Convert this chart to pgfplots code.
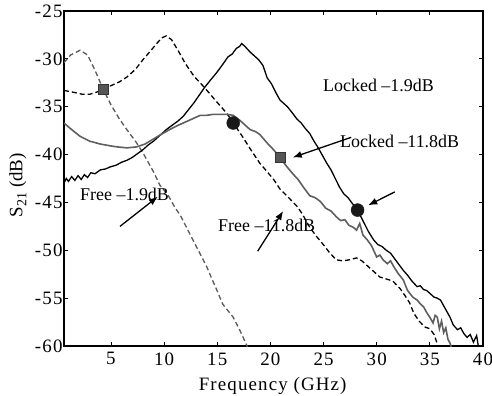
\documentclass[border=0pt]{standalone}
\usepackage{fontspec}
\setmainfont{Liberation Serif}
\newfontfamily\tickfont[LetterSpace=6]{Liberation Serif}
\usepackage{pgfplots}
\pgfplotsset{compat=1.18}
\usetikzlibrary{arrows.meta}
\definecolor{lgray}{HTML}{5F5F5F}
\definecolor{dgray}{HTML}{5A5A5A}
\definecolor{sqfill}{HTML}{555555}
\begin{document}
\begin{tikzpicture}
\path[use as bounding box] (0,0) rectangle (492bp,396bp);
\begin{axis}[
  at={(64bp,50bp)}, anchor=south west,
  width=419bp, height=335bp, scale only axis,
  xmin=0.58, xmax=40, ymin=-60, ymax=-25,
  xtick={5,10,...,40}, ytick={-60,-55,...,-25},
  tick align=inside, major tick length=4bp,
  axis line style={line width=1.2bp},
  every tick/.style={black, line width=0.8bp},
  tick label style={font=\fontsize{19}{20}\tickfont},
  /pgf/number format/assume math mode=true,
  xticklabel style={yshift=-3bp},
  yticklabel style={xshift=2bp},
  xlabel={Frequency (GHz)}, ylabel={S{\fontsize{14}{15}\selectfont\raisebox{-4bp}{21}} (dB)},
  every axis x label/.style={at={(axis description cs:0.498,-0.12)}, anchor=center, font=\fontsize{19}{20}\tickfont},
  every axis y label/.style={at={(axis description cs:-0.11,0.48)}, rotate=90, anchor=center, font=\fontsize{19}{20}\selectfont},
  clip=true,
]
% Free -1.9dB
\addplot[dgray, line width=1.3bp, dash pattern=on 5bp off 3bp] coordinates {
(0.58,-30.4)(1.2,-29.6)(2.1,-29.1)(2.8,-29.6)(3.5,-31.2)(4.28,-33.2)(5.0,-34.8)(5.8,-36.3)(6.5,-37.4)(7.3,-38.6)(8.0,-39.8)(9.0,-41.8)(9.6,-43.2)(10.4,-44.3)(11.0,-45.5)(11.5,-46.3)(12.1,-47.6)(12.7,-48.9)(13.4,-50.4)(14.0,-51.7)(14.5,-53.0)(14.9,-54.0)(15.5,-55.6)(16.0,-56.3)(16.5,-57.0)(17.1,-58.3)(17.8,-60.0)(18.0,-60.5)
};
% Free -11.8dB
\addplot[black, line width=1.3bp, dash pattern=on 5bp off 3bp] coordinates {
(0.58,-33.3)(1.5,-33.5)(2.3,-33.7)(3.0,-33.7)(3.6,-33.5)(4.28,-33.2)(5.0,-32.8)(5.8,-32.4)(6.5,-31.9)(7.3,-31.1)(8.0,-30.1)(8.7,-29.2)(9.3,-28.4)(9.8,-27.8)(10.2,-27.6)(10.7,-28.0)(11.3,-29.1)(12.0,-30.5)(12.8,-31.8)(13.8,-33.0)(14.8,-34.3)(15.9,-35.7)(16.5,-36.7)(17.3,-38.0)(18.1,-39.4)(19.0,-40.9)(19.7,-41.8)(20.3,-42.6)(20.9,-43.6)(21.8,-44.6)(22.5,-45.4)(23.0,-46.2)(23.7,-47.6)(24.3,-48.5)(24.9,-49.3)(25.6,-50.3)(26.2,-51.0)(26.8,-51.1)(27.4,-51.0)(28.1,-50.8)(28.6,-51.1)(29.1,-51.6)(29.7,-52.2)(30.3,-52.8)(30.9,-53.0)(31.5,-53.2)(32.2,-54.0)(32.7,-54.8)(33.1,-55.5)(33.5,-56.6)(34.0,-57.4)(34.5,-58.0)(35.0,-58.2)(35.4,-58.8)(35.7,-59.8)(36.0,-60.5)
};
% Locked -1.9dB
\addplot[black, line width=1.3bp] coordinates {
(0.58,-43.0)(0.8,-42.5)(1.0,-42.8)(1.3,-42.3)(1.6,-42.7)(1.9,-42.2)(2.2,-42.6)(2.5,-42.1)(2.8,-42.4)(3.1,-41.9)(3.5,-42.0)(4.0,-41.6)(4.5,-41.5)(4.9,-41.3)(5.5,-41.1)(6.0,-40.8)(6.5,-40.6)(7.0,-40.3)(7.5,-39.9)(8.0,-39.5)(8.5,-39.0)(9.0,-38.6)(9.6,-38.0)(10.2,-37.4)(10.8,-36.9)(11.3,-36.5)(11.8,-36.0)(12.3,-35.3)(12.8,-34.6)(13.3,-33.8)(13.8,-33.0)(14.3,-32.3)(14.9,-31.5)(15.5,-30.6)(16.0,-29.8)(16.4,-29.5)(16.8,-28.9)(17.1,-28.7)(17.3,-28.4)(17.6,-28.7)(18.1,-29.3)(18.5,-29.7)(18.9,-30.1)(19.3,-30.7)(19.7,-32.0)(20.1,-32.6)(20.5,-33.5)(20.9,-34.3)(21.2,-34.6)(21.6,-35.0)(22.1,-35.7)(22.5,-36.3)(22.9,-36.7)(23.3,-37.3)(23.7,-37.8)(24.1,-38.6)(24.5,-39.3)(24.9,-40.1)(25.3,-40.9)(25.7,-41.6)(26.1,-42.5)(26.5,-43.4)(26.9,-44.1)(27.3,-44.5)(27.7,-45.1)(28.2,-45.8)(28.7,-46.9)(29.2,-48.0)(29.7,-48.9)(30.1,-49.4)(30.5,-49.6)(30.9,-50.0)(31.3,-50.3)(31.7,-50.9)(32.1,-51.5)(32.5,-52.1)(32.9,-52.6)(33.3,-53.2)(33.8,-53.8)(34.1,-53.7)(34.4,-54.1)(34.7,-54.2)(35.0,-54.5)(35.4,-54.9)(35.7,-55.0)(36.0,-55.2)(36.4,-56.0)(36.9,-57.0)(37.2,-57.8)(37.6,-58.3)(37.9,-58.1)(38.2,-58.7)(38.5,-59.1)(38.8,-58.8)(39.1,-59.6)(39.4,-58.9)(39.6,-60.3)
};
% Locked -11.8dB
\addplot[lgray, line width=1.6bp] coordinates {
(0.58,-36.7)(1.2,-37.3)(2.1,-38.1)(3.0,-38.6)(4.0,-38.9)(5.0,-39.1)(5.6,-39.2)(6.5,-39.3)(7.4,-39.2)(8.2,-38.9)(8.95,-38.4)(9.7,-37.9)(10.5,-37.4)(11.2,-37.0)(11.8,-36.7)(12.6,-36.3)(13.4,-35.9)(14.0,-35.9)(14.6,-35.8)(15.3,-35.8)(15.9,-35.8)(16.5,-35.9)(17.1,-36.4)(17.6,-36.9)(18.1,-37.4)(18.6,-37.6)(19.0,-37.9)(19.7,-38.8)(20.3,-39.5)(20.9,-40.3)(21.5,-41.2)(22.1,-42.0)(22.6,-42.6)(23.1,-43.4)(23.7,-44.3)(24.2,-44.5)(24.7,-44.9)(25.2,-45.6)(25.7,-45.9)(26.2,-46.5)(26.6,-46.9)(27.0,-46.8)(27.4,-47.4)(27.8,-47.6)(28.1,-47.9)(28.4,-47.2)(28.7,-48.4)(29.1,-48.9)(29.5,-49.5)(30.0,-50.7)(30.3,-50.5)(30.6,-51.0)(31.0,-51.4)(31.3,-51.1)(31.6,-51.7)(32.0,-52.4)(32.5,-53.1)(32.9,-54.2)(33.4,-54.9)(33.8,-55.2)(34.1,-55.6)(34.4,-55.9)(34.7,-56.5)(35.0,-57.0)(35.3,-57.6)(35.5,-56.8)(35.7,-57.0)(35.9,-58.2)(36.1,-57.4)(36.3,-58.6)(36.5,-58.1)(36.7,-59.3)(36.9,-59.7)(37.1,-60.5)
};
% markers
\addplot[only marks, mark=square*, mark size=5bp, mark options={fill=sqfill, draw=black!80, line width=0.6bp}] coordinates {(4.28,-33.2)(20.9,-40.3)};
\addplot[only marks, mark=*, mark size=6.5bp, mark options={fill=black!90, draw=black!90}] coordinates {(16.5,-36.7)(28.2,-45.8)};
% annotations
\node[anchor=base west, inner sep=0pt, font=\fontsize{18}{20}\selectfont] at (axis cs:24.95,-33.36) {Locked –1.9dB};
\node[anchor=base west, inner sep=0pt, font=\fontsize{18}{20}\selectfont] at (axis cs:26.55,-39.3) {Locked –11.8dB};
\node[anchor=base west, inner sep=0pt, font=\fontsize{18}{20}\selectfont] at (axis cs:2.09,-44.75) {Free –1.9dB};
\node[anchor=base west, inner sep=0pt, font=\fontsize{18}{20}\selectfont] at (axis cs:15.07,-48.06) {Free –11.8dB};
\draw[-{Latex[length=9bp,width=7bp]}, line width=1.3bp] (axis cs:5.85,-47.5) -- (axis cs:9.4,-44.4);
\draw[-{Latex[length=9bp,width=7bp]}, line width=1.3bp] (axis cs:18.8,-50.1) -- (axis cs:21.2,-45.9);
\draw[-{Latex[length=9bp,width=7bp]}, line width=1.3bp] (axis cs:27.6,-38.2) -- (axis cs:22.1,-40.3);
\draw[-{Latex[length=9bp,width=7bp]}, line width=1.3bp] (axis cs:31.7,-43.9) -- (axis cs:29.2,-45.3);
\end{axis}
\end{tikzpicture}
\end{document}
